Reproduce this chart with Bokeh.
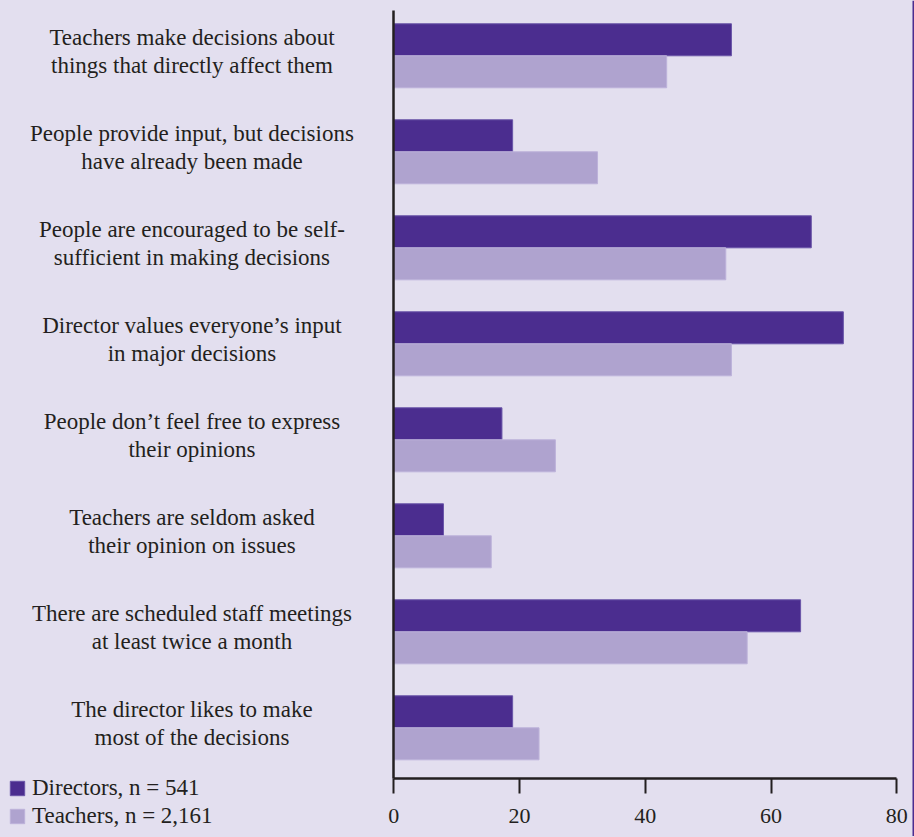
from bokeh.plotting import figure
from bokeh.models import (Range1d, LinearAxis, FixedTicker, Legend, LegendItem,
                          ColumnDataSource, Span)
from bokeh.core.properties import value
from bokeh.embed import file_html
from bokeh.resources import INLINE

# ---- data ----
categories = [
    "Teachers make decisions about\nthings that directly affect them",
    "People provide input, but decisions\nhave already been made",
    "People are encouraged to be self-\nsufficient in making decisions",
    "Director values everyone\u2019s input\nin major decisions",
    "People don\u2019t feel free to express\ntheir opinions",
    "Teachers are seldom asked\ntheir opinion on issues",
    "There are scheduled staff meetings\nat least twice a month",
    "The director likes to make\nmost of the decisions",
]
directors = [53.7, 18.9, 66.4, 71.5, 17.2, 7.9, 64.7, 18.9]
teachers = [43.4, 32.4, 52.8, 53.7, 25.7, 15.5, 56.2, 23.1]
series_labels = ["Directors, n = 541", "Teachers, n = 2,161"]
x_ticks = [0, 20, 40, 60, 80]

# ---- style ----
BG = "#e3dfef"
DARK = "#4b2d8f"
LIGHT = "#afa3cf"
INK = "#231f20"
FONT = "Liberation Serif"

idx = list(range(len(categories)))
bar_h = 1 / 3
src = ColumnDataSource(dict(
    cat=categories,
    yd=[i - bar_h / 2 for i in idx],
    yt=[i + bar_h / 2 for i in idx],
    yc=idx,
    d=directors,
    t=teachers,
))

# pixel geometry: 6.2875 px per unit on x, 96 px per category on y
X0, X1 = -62.553, 82.815
p = figure(width=914, height=836, output_backend="svg", toolbar_location=None,
           x_axis_location=None, y_axis_location=None,
           x_range=Range1d(X0, X1), y_range=Range1d(8.1323, -0.5760),
           min_border_left=0, min_border_right=0, min_border_top=0, min_border_bottom=0)
p.background_fill_color = BG
p.border_fill_color = BG
p.outline_line_color = None
p.xgrid.visible = False
p.ygrid.visible = False

r_d = p.hbar(y="yd", right="d", left=0, height=bar_h, source=src,
             fill_color=DARK, line_color="#6a55a8", line_width=1)
r_t = p.hbar(y="yt", right="t", left=0, height=bar_h, source=src,
             fill_color=LIGHT, line_color="#bdb2da", line_width=1)

p.text(x=-32.1, y="yc", text="cat", source=src, text_align="center",
       text_baseline="middle", text_font=value(FONT), text_font_size="23px",
       text_color=INK, text_line_height=1.13, y_offset=-4)

axis_bottom = 7.528
xaxis = LinearAxis(fixed_location=axis_bottom, bounds=(0, 80),
                   ticker=FixedTicker(ticks=x_ticks),
                   axis_line_color=INK, axis_line_width=2.5,
                   major_tick_line_color=INK, major_tick_line_width=2,
                   major_tick_in=0, major_tick_out=15,
                   minor_tick_line_color=None,
                   major_label_standoff=16,
                   major_label_text_font=FONT, major_label_text_font_size="22px",
                   major_label_text_color=INK)
p.add_layout(xaxis, "below")

yaxis = LinearAxis(fixed_location=0, bounds=(-0.472, axis_bottom),
                   ticker=FixedTicker(ticks=[]),
                   axis_line_color=INK, axis_line_width=2.5,
                   major_tick_line_color=None, minor_tick_line_color=None,
                   major_label_text_font_size="0px")
p.add_layout(yaxis, "left")

# purple rule along the right edge
p.add_layout(Span(location=X1 - 1 / 6.2875, dimension="height",
                  line_color=DARK, line_width=2))

legend = Legend(items=[LegendItem(label=series_labels[0], renderers=[r_d]),
                       LegendItem(label=series_labels[1], renderers=[r_t])],
                location=(8, 7), orientation="vertical", padding=0, margin=0,
                spacing=2, glyph_width=18, glyph_height=18, label_standoff=6,
                label_text_font=FONT, label_text_font_size="23px",
                label_text_color=INK, background_fill_alpha=0, border_line_alpha=0)
p.add_layout(legend)

html = file_html(p, INLINE)
style = "<style>html,body{background:%s;}</style></head>" % BG
html = html.replace("</head>", style, 1)
open("out.html", "w").write(html)
